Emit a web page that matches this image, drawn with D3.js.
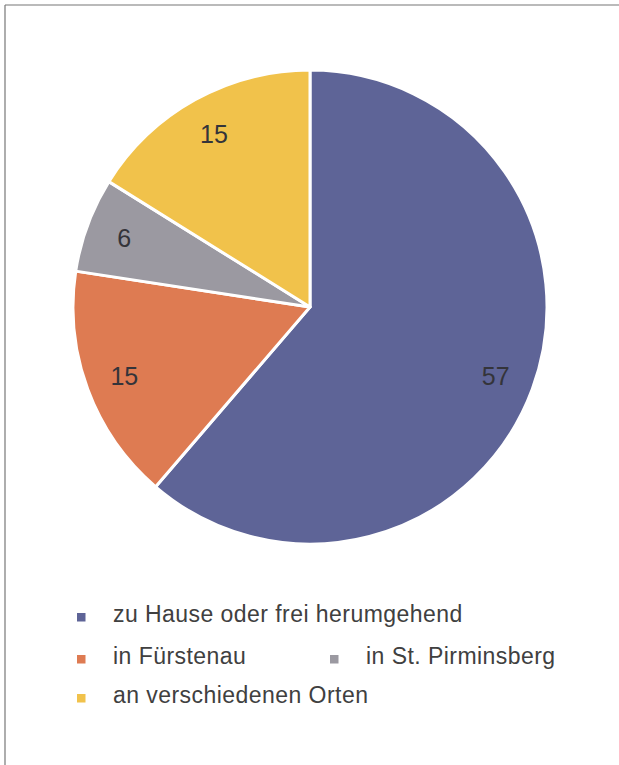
<!DOCTYPE html>
<html>
<head>
<meta charset="utf-8">
<script src="https://cdn.jsdelivr.net/npm/d3@7"></script>
<style>
  body { margin: 0; background: #fff; }
  svg { display: block; font-family: "Liberation Sans", Arial, sans-serif; }
</style>
</head>
<body>
<div id="chart"></div>
<script>
const categories = ['zu Hause oder frei herumgehend', 'in Fürstenau', 'in St. Pirminsberg', 'an verschiedenen Orten'];
const values = [57, 15, 6, 15];
const colors = ['#5e6497', '#de7b52', '#9b99a1', '#f1c24b'];

const width = 619;
const height = 765;
const cx = 310;
const cy = 307;
const radius = 237;

const svg = d3.select('#chart')
  .append('svg')
  .attr('width', width)
  .attr('height', height);

// frame lines (top and left only)
svg.append('line')
  .attr('x1', 5).attr('y1', 5).attr('x2', width).attr('y2', 5)
  .attr('stroke', '#777').attr('stroke-width', 1.2);
svg.append('line')
  .attr('x1', 5).attr('y1', 5).attr('x2', 5).attr('y2', height)
  .attr('stroke', '#777').attr('stroke-width', 1.2);

const pie = d3.pie().sort(null).value(d => d)(values);
const arc = d3.arc().innerRadius(0).outerRadius(radius);
const labelArc = d3.arc().innerRadius(198).outerRadius(198);

const g = svg.append('g')
  .attr('transform', `translate(${cx}, ${cy})`);

g.selectAll('path')
  .data(pie)
  .enter()
  .append('path')
  .attr('d', arc)
  .attr('fill', (d, i) => colors[i])
  .attr('stroke', '#fff')
  .attr('stroke-width', 3)
  .attr('stroke-linejoin', 'round');

g.selectAll('text')
  .data(pie)
  .enter()
  .append('text')
  .attr('transform', d => `translate(${labelArc.centroid(d)})`)
  .attr('text-anchor', 'middle')
  .attr('dominant-baseline', 'central')
  .attr('font-size', 25)
  .attr('fill', '#34343a')
  .text(d => d.data);

// legend
const legendPos = [
  { x: 77, y: 622 },
  { x: 77, y: 664 },
  { x: 330, y: 664 },
  { x: 77, y: 703 }
];

const legend = svg.selectAll('.legend')
  .data(categories)
  .enter()
  .append('g')
  .attr('class', 'legend')
  .attr('transform', (d, i) => `translate(${legendPos[i].x}, ${legendPos[i].y})`);

legend.append('rect')
  .attr('x', 0)
  .attr('y', -9)
  .attr('width', 8.5)
  .attr('height', 8.5)
  .attr('fill', (d, i) => colors[i]);

legend.append('text')
  .attr('x', 36)
  .attr('y', 0)
  .attr('font-size', 23)
  .attr('letter-spacing', 0.45)
  .attr('fill', '#404040')
  .text(d => d);
</script>
</body>
</html>
